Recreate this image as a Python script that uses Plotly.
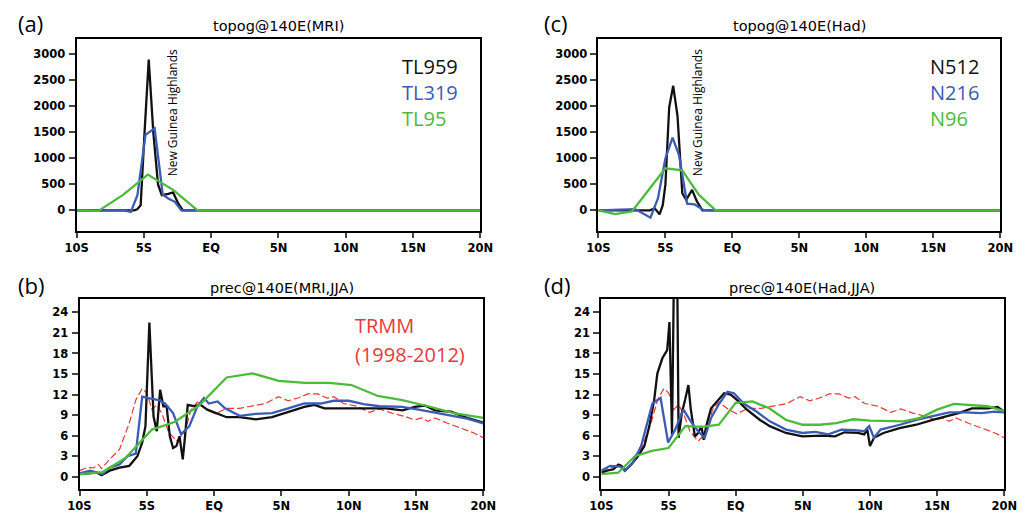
import plotly.graph_objects as go

W, H = 1035, 521
OFF = 8  # default page margin around the plot div

# ---- topography (m) along 140E ----
mri_tl959_lat = [-10, -6.3, -5.72, -5.5, -5.24, -4.95, -4.64, -4.3, -3.95, -3.67, -3.4, -3.19, -2.83, -2.46, -2.1, 20]
mri_tl959_topo = [0, 0, 0, 20, 100, 1500, 2900, 1500, 500, 293, 300, 318, 345, 140, 0, 0]
mri_tl319_lat = [-10, -6.5, -5.97, -5.48, -4.88, -4.2, -3.6, -3.19, -2.7, -2.22, 20]
mri_tl319_topo = [0, 0, -30, 293, 1452, 1580, 306, 229, 165, 0, 0]
mri_tl95_lat = [-10.2, -8.38, -6.57, -4.71, -2.83, -1.01, 20]
mri_tl95_topo = [0, -10, 293, 688, 395, 0, 0]

had_n512_lat = [-10, -6.17, -5.8, -5.44, -5.2, -5.0, -4.72, -4.42, -4.1, -3.74, -3.45, -3.01, -2.65, -2.24, 20]
had_n512_topo = [0, 0, 40, -75, 100, 500, 1980, 2395, 1820, 330, 204, 395, 172, 0, 0]
had_n216_lat = [-10, -7.26, -6.12, -5.56, -5.0, -4.47, -3.99, -3.38, -2.82, -2.17, -1.4, 20]
had_n216_topo = [0, 25, -140, 230, 1000, 1400, 1070, 130, 115, 10, 0, 0]
had_n96_lat = [-10, -8.75, -7.5, -6.25, -5.0, -3.75, -2.5, -1.25, 20]
had_n96_topo = [0, -70, -20, 400, 810, 770, 300, 0, 0]

# ---- JJA precipitation (mm/day) along 140E ----
trmm_lat = [-10, -9.44, -8.96, -8.6, -8.36, -7.76, -7.03, -6.3, -5.82, -5.34, -4.98, -4.62, -4.26, -3.89,
            -3.41, -2.8, -2.2, -1.72, -1.24, -0.51, 0.09, 0.93, 1.9, 2.86, 3.83, 4.3, 4.8, 5.5, 6.24,
            6.97, 7.7, 8.4, 8.9, 9.6, 10.6, 11.55, 12.3, 13.2, 14.2, 14.9, 15.4, 15.9, 16.4, 17.3, 18.3,
            19.3, 20]
trmm_prec = [0.9, 1.35, 1.3, 1.8, 1.2, 2.55, 4.0, 7.85, 11.2, 12.9, 12.2, 9.8, 10.5, 9.3,
             6.65, 5.2, 6.4, 9.8, 10.9, 9.8, 9.2, 10.0, 10.0, 10.3, 10.7, 11.2, 11.7, 11.1, 11.5,
             12.1, 12.1, 11.5, 11.7, 10.7, 10.3, 9.4, 9.9, 9.3, 8.8, 8.3, 8.6, 8.1, 8.6, 7.85, 7.1,
             6.4, 5.7]

mri_tl959_lat_p = [-10, -8.7, -8.36, -7.76, -7.03, -6.3, -5.7, -5.34, -5.1, -4.81, -4.5, -4.26, -4.01,
                   -3.77, -3.53, -3.29, -3.05, -2.8, -2.57, -2.33, -2.16, -1.96, -1.48, -1.0, -0.51,
                   0.09, 0.93, 1.9, 3.1, 4.3, 5.5, 6.7, 7.45, 8.2, 9.1, 10.3, 11.55, 12.76, 14.0,
                   14.9, 15.66, 16.4, 17.6, 18.8, 20]
mri_tl959_prec = [0.4, 0.6, 0.25, 0.9, 1.35, 1.6, 3.0, 5.0, 7.4, 22.5, 8.8, 6.65, 12.7,
                  10.3, 10.3, 5.9, 4.2, 4.5, 5.9, 2.55, 5.9, 10.5, 10.3, 10.5, 9.8,
                  9.3, 8.7, 8.7, 8.4, 8.7, 9.5, 10.2, 10.5, 10.0, 10.0, 10.0, 10.0, 10.0, 9.7,
                  10.2, 10.4, 9.7, 9.5, 8.6, 7.9]
mri_tl319_lat_p = [-10, -9.2, -8.29, -7.76, -7.03, -6.43, -5.82, -5.34, -4.86, -4.13, -3.65, -3.05,
                   -2.45, -1.84, -1.24, -0.76, -0.39, 0.26, 0.81, 1.9, 3.1, 4.3, 5.5, 6.7, 7.9, 8.9,
                   10.0, 11.1, 12.3, 13.97, 15.2, 16.4, 17.8, 18.8, 20]
mri_tl319_prec = [0.5, 0.9, 0.4, 1.35, 1.8, 3.0, 3.4, 11.7, 11.5, 11.2, 10.7, 9.3,
                  6.2, 7.4, 10.3, 11.5, 10.7, 11.0, 10.0, 8.9, 9.2, 9.3, 10.0, 10.7, 10.7, 11.1,
                  11.1, 10.6, 10.3, 10.2, 9.8, 9.4, 8.9, 8.5, 7.8]
mri_tl95_lat_p = [-10, -8.29, -6.55, -4.62, -2.93, -1.12, 0.93, 2.86, 4.8, 6.73, 8.54, 10.2, 12.16,
                  13.97, 15.9, 17.8, 20]
mri_tl95_prec = [0.4, 0.7, 2.8, 6.9, 8.0, 10.4, 14.5, 15.1, 14.0, 13.7, 13.7, 13.4, 11.8,
                 11.2, 10.3, 9.3, 8.6]

had_n512_lat_p = [-10, -9.59, -9.1, -8.74, -8.5, -8.25, -7.77, -7.28, -6.8, -6.43, -6.07, -5.83,
                  -5.46, -5.1, -4.93, -4.74, -4.57, -4.37, -4.25, -4.01, -3.77, -3.52, -3.35,
                  -3.04, -2.8, -2.55, -2.38, -2.19, -1.83, -1.34, -0.86, -0.37, 0.11, 0.84, 1.81,
                  2.54, 3.75, 4.97, 6.4, 7.4, 8.1, 9.1, 9.57, 9.8, 10.0, 10.3, 11.0, 12.2, 13.45,
                  14.67, 15.9, 16.6, 17.6, 18.8, 19.5, 20]
had_n512_prec = [0.6, 0.9, 1.1, 1.8, 1.6, 0.9, 1.8, 3.0, 4.5, 7.4, 11.2, 15.1,
                 17.3, 18.5, 22.6, 6.2, 34.0, 34.0, 5.7, 9.3, 11.2, 13.4, 10.0,
                 5.9, 6.4, 7.4, 5.4, 7.4, 10.0, 11.2, 12.2, 12.0, 11.2, 9.8, 8.3,
                 7.4, 6.4, 5.9, 6.0, 5.9, 6.5, 6.4, 6.2, 6.9, 4.5, 5.7, 6.4, 7.1, 7.6,
                 8.3, 8.9, 9.3, 10.0, 10.0, 10.2, 9.5]
had_n216_lat_p = [-10, -9.35, -8.6, -8.25, -7.65, -7.04, -6.2, -5.59, -5.03, -4.5, -3.89, -3.28,
                  -2.8, -2.31, -1.83, -1.22, -0.61, -0.13, 0.6, 1.57, 2.54, 3.75, 4.97, 5.93, 6.9,
                  7.88, 8.85, 9.57, 9.94, 10.3, 10.79, 12.24, 13.45, 14.67, 15.9, 17.1, 18.3,
                  19.27, 20]
had_n216_prec = [0.9, 1.6, 1.5, 0.9, 2.1, 4.5, 10.7, 11.5, 5.0, 6.9, 9.8, 7.9,
                 6.65, 5.7, 8.6, 10.7, 12.4, 12.2, 10.7, 9.5, 8.1, 6.9, 6.4, 6.55, 6.2,
                 6.9, 6.8, 6.65, 7.4, 5.7, 6.9, 7.6, 8.3, 8.9, 9.4, 9.4, 9.3,
                 9.5, 9.4]
had_n96_lat_p = [-10, -8.75, -7.5, -6.25, -5.0, -3.75, -2.5, -1.25, 0, 1.25, 2.5, 3.75, 5.0, 6.25,
                 7.5, 8.75, 10.0, 11.25, 12.5, 13.75, 15.0, 16.25, 17.5, 18.75, 20]
had_n96_prec = [0.4, 0.6, 3.0, 3.8, 4.2, 7.4, 7.3, 7.6, 10.8, 11.0, 10.0, 8.3, 7.6, 7.6,
                7.85, 8.4, 8.2, 8.1, 8.1, 8.6, 9.8, 10.65, 10.5, 10.3, 9.6]

x_ticks = [-10, -5, 0, 5, 10, 15, 20]
x_tick_labels = ['10S', '5S', 'EQ', '5N', '10N', '15N', '20N']
topo_ticks = [0, 500, 1000, 1500, 2000, 2500, 3000]
prec_ticks = [0, 3, 6, 9, 12, 15, 18, 21, 24]

BLACK = '#111111'
BLUE = '#3b5bb5'
GREEN = '#4cbb3a'
RED = '#e63a3a'

FW, FH = W - 2 * OFF, H - 2 * OFF


def px_x(p):
    return (p - OFF) / FW


def px_y(p):
    return 1 - (p - OFF) / FH


# panel frames in page pixels: left, right, top, bottom
panels = {
    'a': (66, 480, 39, 233),
    'c': (601, 1013, 39, 233),
    'b': (69, 483, 301, 493),
    'd': (604, 1017, 301, 493),
}
axis_ids = {'a': ('x', 'y'), 'c': ('x2', 'y2'), 'b': ('x3', 'y3'), 'd': ('x4', 'y4')}

fig = go.Figure()


def add_line(panel, lat, vals, color, width=2.3, dash='solid'):
    xa, ya = axis_ids[panel]
    fig.add_trace(go.Scatter(x=lat, y=vals, mode='lines', xaxis=xa, yaxis=ya,
                             line=dict(color=color, width=width, dash=dash), showlegend=False))


add_line('a', mri_tl959_lat, mri_tl959_topo, BLACK)
add_line('a', mri_tl319_lat, mri_tl319_topo, BLUE)
add_line('a', mri_tl95_lat, mri_tl95_topo, GREEN)

add_line('c', had_n512_lat, had_n512_topo, BLACK)
add_line('c', had_n216_lat, had_n216_topo, BLUE)
add_line('c', had_n96_lat, had_n96_topo, GREEN)

add_line('b', trmm_lat, trmm_prec, RED, width=1.2, dash='7px,3px')
add_line('b', mri_tl959_lat_p, mri_tl959_prec, BLACK)
add_line('b', mri_tl319_lat_p, mri_tl319_prec, BLUE)
add_line('b', mri_tl95_lat_p, mri_tl95_prec, GREEN)

add_line('d', trmm_lat, trmm_prec, RED, width=1.2, dash='7px,3px')
add_line('d', had_n512_lat_p, had_n512_prec, BLACK)
add_line('d', had_n216_lat_p, had_n216_prec, BLUE)
add_line('d', had_n96_lat_p, had_n96_prec, GREEN)

tick_font = dict(family='DejaVu Sans', size=11.5, color='black', weight='bold')
layout = {}
for key, (l, r, t, b) in panels.items():
    xa, ya = axis_ids[key]
    xname = 'xaxis' + xa[1:]
    yname = 'yaxis' + ya[1:]
    topo = key in ('a', 'c')
    layout[xname] = dict(
        domain=[px_x(l), px_x(r)], anchor=ya, range=[-10, 20],
        tickvals=x_ticks, ticktext=x_tick_labels, ticks='outside', ticklen=5, tickwidth=2,
        showline=True, linewidth=2, linecolor='black', mirror=True, showgrid=False,
        zeroline=False, tickfont=tick_font,
    )
    layout[yname] = dict(
        domain=[px_y(b), px_y(t)], anchor=xa,
        range=[-400, 3300] if topo else [-1.8, 26],
        tickvals=topo_ticks if topo else prec_ticks, ticks='outside', ticklen=6, tickwidth=2,
        showline=True, linewidth=2, linecolor='black', mirror=True, showgrid=False,
        zeroline=False, tickfont=tick_font, ticklabelstandoff=1,
    )

annotations = []


def label(x, y, text, size, color='black', family='Open Sans', xanchor='left', angle=0):
    annotations.append(dict(x=px_x(x), y=px_y(y), xref='paper', yref='paper', text=text,
                            showarrow=False, xanchor=xanchor, yanchor='middle', textangle=angle,
                            font=dict(family=family, size=size, color=color)))


# panel letters
label(4, 23, '(a)', 22)
label(543, 23, '(c)', 22)
label(4, 287, '(b)', 22)
label(543, 287, '(d)', 22)

# titles
label(273, 26, 'topog@140E(MRI)', 14.5, family='DejaVu Sans', xanchor='center')
label(807, 26, 'topog@140E(Had)', 14.5, family='DejaVu Sans', xanchor='center')
label(277, 290, 'prec@140E(MRI,JJA)', 14.5, family='DejaVu Sans', xanchor='center')
label(810, 290, 'prec@140E(Had,JJA)', 14.5, family='DejaVu Sans', xanchor='center')

# resolution labels
for x0, names in ((398, ['TL959', 'TL319', 'TL95']), (939, ['N512', 'N216', 'N96'])):
    for name, yy, col in zip(names, (67, 93, 119), (BLACK, BLUE, GREEN)):
        label(x0, yy, name, 20, color=col)

label(349, 328, 'TRMM', 20, color=RED)
label(349, 357, '(1998-2012)', 20, color=RED)

# orography annotation
label(164, 114, 'New Guinea Highlands', 12, xanchor='center', angle=-90)
label(702, 113, 'New Guinea Highlands', 12, xanchor='center', angle=-90)

fig.update_layout(
    width=FW, height=FH, margin=dict(l=0, r=0, t=0, b=0),
    paper_bgcolor='white', plot_bgcolor='white',
    annotations=annotations, showlegend=False,
    **layout,
)

fig.write_html('out.html')
